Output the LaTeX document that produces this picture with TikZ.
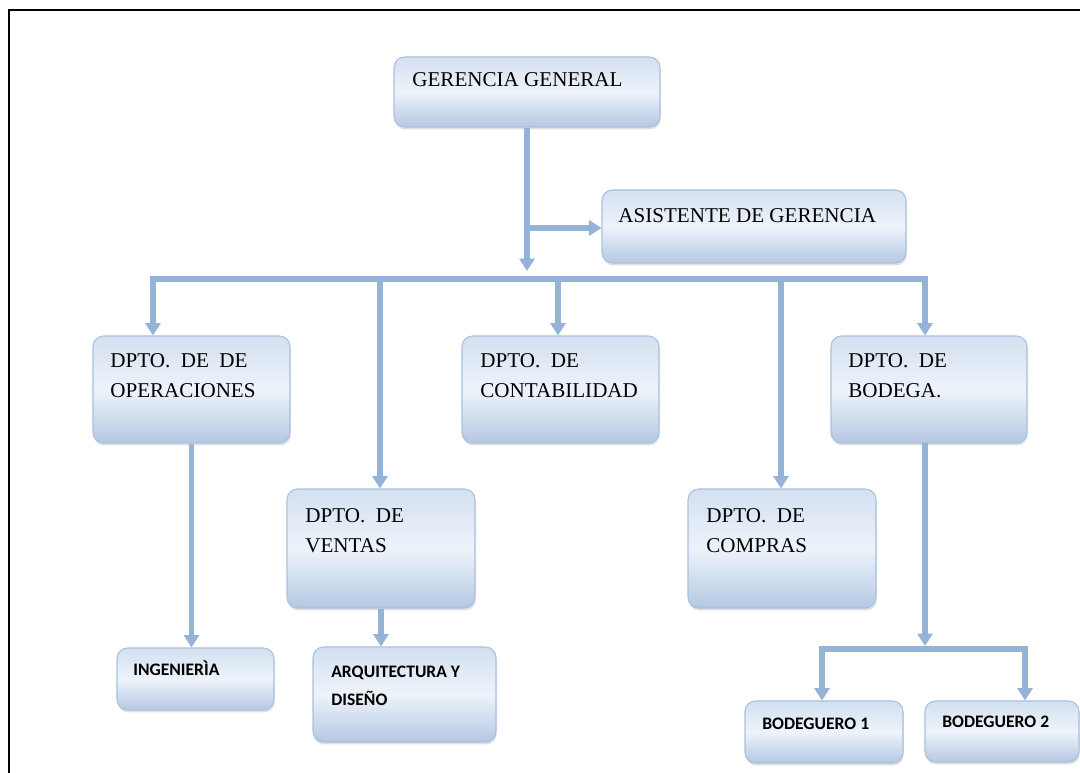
\documentclass[tikz,border=0pt]{standalone}
\usepackage{fontspec}
\setmainfont{Liberation Serif}
\newfontfamily\smallsans{Carlito}
\usetikzlibrary{arrows.meta,shadows}
\definecolor{linkblue}{HTML}{95B3D7}
\definecolor{boxedge}{HTML}{A9C1DF}
\definecolor{shadetop}{HTML}{D3E0F0}
\definecolor{shademid}{HTML}{EEF3FA}
\definecolor{shadebot}{HTML}{B4C8E2}
\begin{document}
\begin{tikzpicture}[x=0.02cm,y=-0.02cm,
  box/.style={draw=boxedge, line width=0.6pt, rounded corners=6pt,
    top color=shadetop, bottom color=shadebot, middle color=shademid,
    drop shadow={opacity=0.25, shadow xshift=0.4pt, shadow yshift=-1.4pt},
    inner sep=0pt},
  link/.style={draw=linkblue, line width=3pt},
  tip/.style={link, -{Triangle[width=8.5pt,length=7pt]}},
  title/.style={anchor=base west, inner sep=0pt, align=left,
    font=\fontsize{12}{17.6}\selectfont},
  sub/.style={anchor=base west, inner sep=0pt, align=left,
    font=\smallsans\bfseries\fontsize{10}{16}\selectfont}]
\useasboundingbox (0,0) rectangle (1080,773);

% page frame
\draw[line width=1.7pt] (9,773) -- (9,10) -- (1080,10);

% boxes
\node[box, minimum width=266*0.02cm, minimum height=70*0.02cm] (gg) at (527,92) {};
\node[box, minimum width=304*0.02cm, minimum height=73*0.02cm] (asis) at (754,226.5) {};
\node[box, minimum width=197*0.02cm, minimum height=107*0.02cm] (ops) at (191.5,389.5) {};
\node[box, minimum width=197*0.02cm, minimum height=107*0.02cm] (cont) at (560.5,389.5) {};
\node[box, minimum width=196*0.02cm, minimum height=107*0.02cm] (bod) at (929,389.5) {};
\node[box, minimum width=188*0.02cm, minimum height=119*0.02cm] (ven) at (381,548.5) {};
\node[box, minimum width=188*0.02cm, minimum height=119*0.02cm] (com) at (782,548.5) {};
\node[box, minimum width=157*0.02cm, minimum height=62*0.02cm] (ing) at (195.5,679) {};
\node[box, minimum width=183*0.02cm, minimum height=95*0.02cm] (arq) at (404.5,694.5) {};
\node[box, minimum width=158*0.02cm, minimum height=62*0.02cm] (bg1) at (824,732) {};
\node[box, minimum width=154*0.02cm, minimum height=61*0.02cm] (bg2) at (1002,731.5) {};

% labels (two-line labels are placed by the baseline of their last line)
\node[title] (gg-t) at (412,87) {GERENCIA GENERAL};
\node[title] (asis-t) at (618,222.5) {ASISTENTE DE GERENCIA};
\node[title] (ops-t) at (110,398) {DPTO.\ \ DE\ \ DE\\OPERACIONES};
\node[title] (cont-t) at (480,398) {DPTO.\ \ DE\\CONTABILIDAD};
\node[title] (bod-t) at (848,398) {DPTO.\ \ DE\\BODEGA.};
\node[title] (ven-t) at (305,553) {DPTO.\ \ DE\\VENTAS};
\node[title] (com-t) at (706,553) {DPTO.\ \ DE\\COMPRAS};
\node[sub] (ing-t) at (133,676) {INGENIERÌA};
\node[sub] (arq-t) at (331,706) {ARQUITECTURA Y\\DISEÑO};
\node[sub] (bg1-t) at (762,730) {BODEGUERO 1};
\node[sub] (bg2-t) at (942,728) {BODEGUERO 2};

% junction points
\coordinate (trunkEnd) at (527,271);
\coordinate (asisJoin) at (527,228);
\coordinate (busC) at (527,279);
\coordinate (busL) at (153,279);
\coordinate (busV) at (380,279);
\coordinate (busK) at (558,279);
\coordinate (busP) at (781,279);
\coordinate (busR) at (925,279);
\coordinate (bodDrop) at (925,443);
\coordinate (bodEnd) at (925,646);
\coordinate (subL) at (822,649);
\coordinate (subR) at (1025,649);

% connectors
\draw[tip] (gg.south) -- (trunkEnd);
\draw[tip] (asisJoin) -- (asisJoin -| asis.west);
\draw[tip] (busC) -- (busL) -- (busL |- ops.north);
\draw[tip] (busC) -- (busR) -- (busR |- bod.north);
\draw[tip] (busV) -- (busV |- ven.north);
\draw[tip] (busK) -- (busK |- cont.north);
\draw[tip] (busP) -- (busP |- com.north);
\draw[tip] (ops.south) -- (ops.south |- ing.north);
\draw[tip] (ven.south) -- (ven.south |- arq.north);
\draw[tip] (bodDrop) -- (bodEnd);
\draw[tip] (subR) -- (subL) -- (subL |- bg1.north);
\draw[tip] (subL) -- (subR) -- (subR |- bg2.north);
\end{tikzpicture}
\end{document}
